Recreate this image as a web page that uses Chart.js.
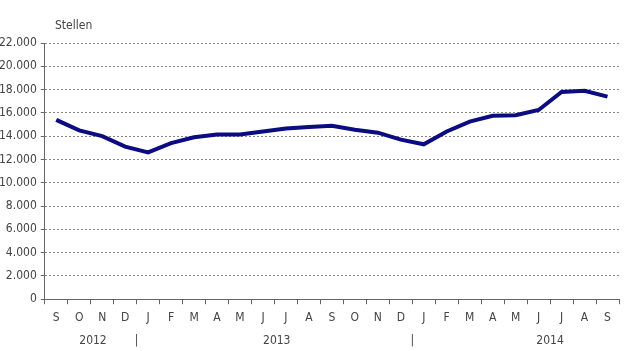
<!DOCTYPE html>
<html>
<head>
<meta charset="utf-8">
<script src="https://cdn.jsdelivr.net/npm/chart.js@4"></script>
<style>
  html, body { margin:0; padding:0; background:#fff; overflow:hidden; }
  #wrap { position:absolute; left:-5px; top:0; width:631px; height:352px; }
  #title { position:absolute; left:55px; top:18px; font:12px 'Liberation Sans Narrow','DejaVu Sans Condensed',sans-serif; color:#444; }
</style>
</head>
<body>
<div id="wrap"><canvas id="c"></canvas></div>
<div id="title">Stellen</div>
<script>
// Monate Sep 2012 – Sep 2014
const months = ['S','O','N','D','J','F','M','A','M','J','J','A','S','O','N','D','J','F','M','A','M','J','J','A','S'];
const stellen = [15400,14500,14000,13100,12600,13400,13900,14150,14150,14400,14650,14780,14900,14550,14300,13700,13300,14400,15250,15750,15800,16250,17800,17900,17400];
// Jahreszeile: Position (in Monaten ab Start) und Text
const yearPos = [2.1, 4, 10.1, 16, 22];
const yearText = ['2012', '|', '2013', '|', '2014'];

const FONT = "'Liberation Sans Narrow','DejaVu Sans Condensed',sans-serif";
const GREY = '#444';

new Chart(document.getElementById('c'), {
  type: 'line',
  data: {
    labels: months,
    datasets: [{ data: stellen, borderColor: '#0b0b82', borderWidth: 4, pointRadius: 0, tension: 0, fill: false }]
  },
  options: {
    responsive: true, maintainAspectRatio: false, animation: false,
    layout: { padding: { top: 43, right: 7, bottom: 1, left: 0 } },
    plugins: { legend: { display: false }, tooltip: { enabled: false } },
    scales: {
      x: {
        type: 'category', offset: true,
        grid: { display: true, drawOnChartArea: false, drawTicks: true, tickLength: 5, color: '#666', offset: true },
        border: { display: true, color: '#666', width: 1 },
        ticks: { color: GREY, font: { family: FONT, size: 12 }, padding: 6, autoSkip: false, maxRotation: 0 }
      },
      x2: {
        type: 'linear', position: 'bottom', min: 0, max: 25,
        afterBuildTicks: s => { s.ticks = yearPos.map(v => ({ value: v })); },
        grid: { display: false, drawTicks: false },
        border: { display: false },
        ticks: { color: GREY, font: { family: FONT, size: 12 }, padding: 3, autoSkip: false, maxRotation: 0,
          callback: (v, i) => yearText[i] }
      },
      y: {
        min: 0, max: 22000,
        ticks: { stepSize: 2000, color: GREY, font: { family: FONT, size: 12 }, padding: 4,
          callback: v => v.toLocaleString('de-DE') },
        grid: { color: '#888', lineWidth: 1, tickLength: 4, tickColor: '#666', tickBorderDash: [0, 0] },
        border: { display: true, color: '#666', width: 1, dash: [2, 2] }
      }
    }
  }
});
</script>
</body>
</html>
